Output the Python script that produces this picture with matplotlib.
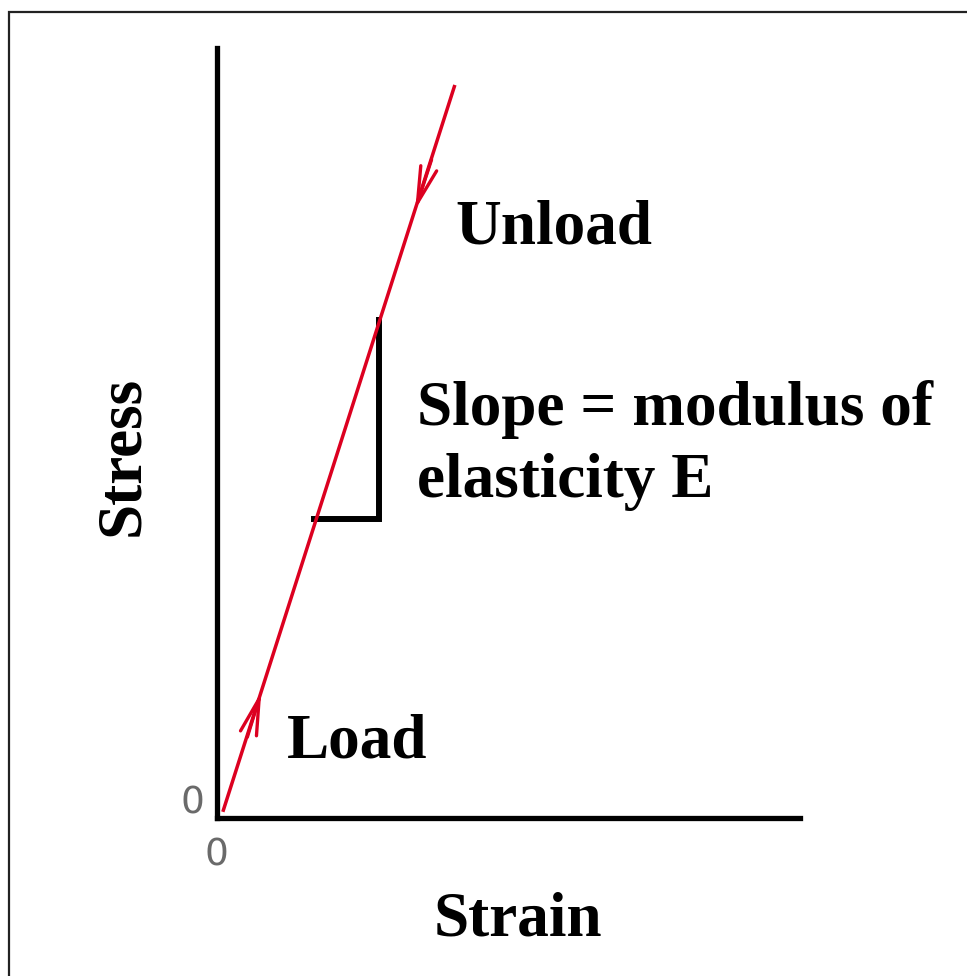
import matplotlib
matplotlib.use("Agg")
import matplotlib.pyplot as plt
from matplotlib.patches import Rectangle

# ---- data (schematic, arbitrary units) ----
strain = [0.10, 4.08]
stress = [0.08, 9.52]
slope_tri_strain = [1.66, 2.78, 2.78]
slope_tri_stress = [3.88, 3.88, 6.47]
load_arrow_tail = (0.52, 1.05)
load_arrow_tip = (0.76, 1.64)
unload_arrow_tail = (3.68, 8.55)
unload_arrow_tip = (3.40, 7.90)
labels = {"x": "Strain", "y": "Stress", "load": "Load", "unload": "Unload",
          "slope1": "Slope = modulus of", "slope2": "elasticity E"}
zero_label = "0"

W, H = 967, 976
fig = plt.figure(figsize=(W / 100, H / 100), dpi=100)

def fx(px):
    return px / W

def fy(py):
    return 1 - py / H

# outer frame
fig.patches.append(Rectangle((fx(9), fy(12) - 1.2), 1.2, 1.2, transform=fig.transFigure,
                             fill=False, edgecolor="#222222", linewidth=1.6))

ax = fig.add_axes([fx(217), fy(818), fx(800) - fx(217), fy(48) - fy(818)])
ax.set_xlim(0, 10)
ax.set_ylim(0, 10)
for s in ["top", "right"]:
    ax.spines[s].set_visible(False)
for s in ["left", "bottom"]:
    ax.spines[s].set_linewidth(3.8)
    ax.spines[s].set_color("black")
ax.set_xticks([])
ax.set_yticks([])
ax.patch.set_alpha(0)

red = "#dc0020"
ax.plot(strain, stress, color=red, lw=2.5, solid_capstyle="butt", zorder=3)
ax.plot(slope_tri_strain, slope_tri_stress, color="black", lw=4.3, zorder=2,
        solid_joinstyle="miter")

for tail, tip in [(load_arrow_tail, load_arrow_tip), (unload_arrow_tail, unload_arrow_tip)]:
    ax.annotate("", xy=tip, xytext=tail,
                arrowprops=dict(arrowstyle="->,head_length=1.3,head_width=0.3",
                                color=red, lw=2.4, mutation_scale=20,
                                shrinkA=0, shrinkB=0), zorder=4)

serif = "Liberation Serif"
fs = 45.5
fig.text(fx(455), fy(243), labels["unload"], family=serif, weight="bold", fontsize=fs,
         ha="left", va="baseline")
fig.text(fx(417), fy(425), labels["slope1"], family=serif, weight="bold", fontsize=fs,
         ha="left", va="baseline")
fig.text(fx(417), fy(497), labels["slope2"], family=serif, weight="bold", fontsize=fs,
         ha="left", va="baseline")
fig.text(fx(287), fy(757), labels["load"], family=serif, weight="bold", fontsize=fs,
         ha="left", va="baseline")
fig.text(fx(518), fy(935), labels["x"], family=serif, weight="bold", fontsize=fs,
         ha="center", va="baseline")
fig.text(fx(138), fy(456), labels["y"], family=serif, weight="bold", fontsize=fs,
         ha="center", va="baseline", rotation=90, rotation_mode="anchor")

fig.text(fx(192), fy(804), zero_label, fontsize=27, color="#6a6a6a",
         ha="center", va="center")
fig.text(fx(216), fy(856), zero_label, fontsize=27, color="#6a6a6a",
         ha="center", va="center")

fig.savefig("out.png", dpi=100, facecolor="white")
